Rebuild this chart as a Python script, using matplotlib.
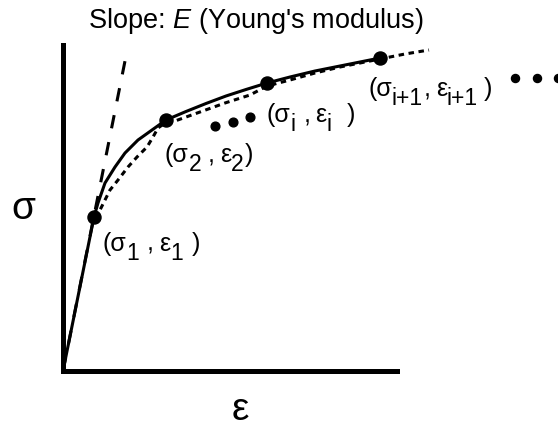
import numpy as np
import matplotlib
matplotlib.use("Agg")
import matplotlib.pyplot as plt
from matplotlib.transforms import offset_copy

plt.rcParams['font.family'] = ['Liberation Sans', 'DejaVu Sans']
plt.rcParams['mathtext.fontset'] = 'custom'
plt.rcParams['mathtext.rm'] = 'Liberation Sans'
plt.rcParams['mathtext.it'] = 'Liberation Sans:italic'

# sketch of a stress-strain curve (arbitrary units)
eps_solid = [0, 31, 35, 42, 52, 62, 75, 89, 103, 123, 143, 163, 183, 204,
             227, 252, 277, 297, 317]
sig_solid = [0, 154, 168, 188, 204, 218, 231, 241, 251, 259.5, 267.5, 275,
             281.5, 288, 294, 300, 305, 309, 313]

eps_fit = [31, 37, 47, 55, 65, 74, 84, 90, 95, 102, 112, 137, 162, 187, 204,
           227, 252, 277, 297, 317, 342, 366]
sig_fit = [154, 161, 181, 191, 204, 214, 224, 234, 243, 248, 250, 259, 268,
           276, 285, 291, 298, 304, 308, 312, 317, 321]

eps_E = [0, 64]
sig_E = [0, 320]

eps_pts = [31, 103, 204, 317]
sig_pts = [154, 251, 288, 313]
subs = ['1', '2', 'i', 'i+1']
lab_eps = [40, 102, 204, 305]
lab_sig = [120, 209, 249, 275]

eps_dots1 = [152, 170, 187]
sig_dots1 = [245, 249, 254]
eps_dots2 = [452, 474, 495]
sig_dots2 = [293, 293, 293]

fig = plt.figure(figsize=(5.58, 4.29), dpi=100)
ax = fig.add_axes([63/558, 58/429, 334/558, 326/429])
ax.set_xlim(0, 334)
ax.set_ylim(0, 326)

ax.plot(eps_E, sig_E, color='black', lw=2.2, ls=(0, (4.4, 4.6)),
        clip_on=False)
ax.plot(eps_fit, sig_fit, color='black', lw=2.2, ls=(0, (1.8, 1.5)),
        clip_on=False)
ax.plot(eps_solid, sig_solid, color='black', lw=2.2, clip_on=False)
ax.plot(eps_pts, sig_pts, 'o', color='black', ms=9.4, clip_on=False)
ax.plot(eps_dots1, sig_dots1, 'o', color='black', ms=6.3, clip_on=False)
ax.plot(eps_dots2, sig_dots2, 'o', color='black', ms=5.8, clip_on=False)

renderer = fig.canvas.get_renderer()
MAIN, SUB, DROP = 18, 16.5, 9


def draw_label(x, y, pieces):
    # pieces: (text, 'm' main / 's' subscript) or a number = blank pixels
    dx = 0
    for p in pieces:
        if not isinstance(p, tuple):
            dx += p
            continue
        s, kind = p
        size = MAIN if kind == 'm' else SUB
        dy = 0 if kind == 'm' else -DROP
        tr = offset_copy(ax.transData, fig=fig, x=dx, y=dy, units='dots')
        t = ax.text(x, y, s, fontsize=size, ha='left', va='baseline',
                    transform=tr)
        dx += t.get_window_extent(renderer=renderer).width


label_gaps = {
    '1': (7, 6, 9),
    '2': (6, 6, 1),
    'i': (8, 5, 15),
    'i+1': (1, 5, 6),
}
for sb, x, y in zip(subs, lab_eps, lab_sig):
    g1, g2, g3 = label_gaps[sb]
    draw_label(x, y, [("(σ", 'm'), (sb, 's'), g1, (",", 'm'), g2,
                      ("ε", 'm'), (sb, 's'), g3, (")", 'm')])

for side in ['top', 'right']:
    ax.spines[side].set_visible(False)
for side in ['left', 'bottom']:
    ax.spines[side].set_linewidth(3.6)
ax.set_xticks([])
ax.set_yticks([])

fig.text(256/558, 1 - 28/429, r"Slope: $\mathit{E}$ (Young's modulus)",
         fontsize=19.5, ha='center', va='baseline')
fig.text(23/558, 1 - 209/429, "σ", fontsize=28, ha='center', va='center')
fig.text(240/558, 1 - 410/429, "ε", fontsize=28, ha='center', va='center')

fig.savefig("out.png", dpi=100)
